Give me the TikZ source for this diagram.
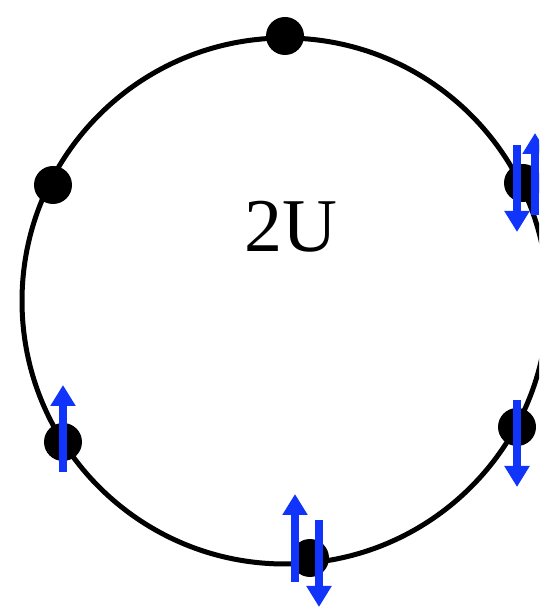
\documentclass[tikz,border=0pt]{standalone}
\usepackage{fontspec}
\setmainfont{Liberation Serif}
\usetikzlibrary{arrows.meta}
\definecolor{spinblue}{RGB}{16,52,250}
\tikzset{
  site/.style={circle,fill=black,inner sep=0pt,minimum size=38pt},
  spin/.style={draw=spinblue,line width=7.5pt,-{Triangle[width=24pt,length=21pt]}}
}
\begin{document}
\begin{tikzpicture}[x=1pt,y=1pt]
\useasboundingbox (0,0) rectangle (539,607);
\begin{scope}
\clip (0,0) rectangle (539,607);
\draw[line width=5pt] (285,306) ellipse [x radius=263, y radius=263];
\node[site] (s1) at (285,571) {};
\node[site] (s2) at (53,422) {};
\node[site] (s3) at (523,424) {};
\node[site] (s4) at (63,165) {};
\node[site] (s5) at (517,180) {};
\node[site] (s6) at (310,49) {};
\node[font=\fontsize{76}{80}\selectfont] (lbl) at (291,380) {2U};
% spins
\coordinate (a3s) at (517,462);
\coordinate (a3e) at (517,375);
\coordinate (b3s) at (535,392);
\coordinate (b3e) at (535,474);
\coordinate (a4s) at (63,135);
\coordinate (a4e) at (63,222);
\coordinate (a5s) at (517,207);
\coordinate (a5e) at (517,120);
\coordinate (a6s) at (295,25);
\coordinate (a6e) at (295,113);
\coordinate (b6s) at (319,87);
\coordinate (b6e) at (319,0);
\draw[spin] (a3s) -- (a3e);
\draw[spin] (b3s) -- (b3e);
\draw[spin] (a4s) -- (a4e);
\draw[spin] (a5s) -- (a5e);
\draw[spin] (a6s) -- (a6e);
\draw[spin] (b6s) -- (b6e);
\end{scope}
\end{tikzpicture}
\end{document}
